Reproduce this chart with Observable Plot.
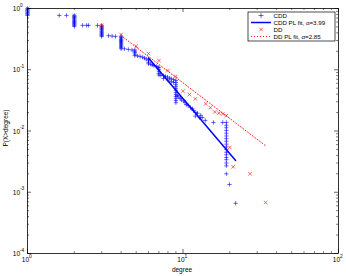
<!DOCTYPE html>
<html><head><meta charset="utf-8">
<script src="https://cdn.jsdelivr.net/npm/d3@7"></script>
<script src="https://cdn.jsdelivr.net/npm/@observablehq/plot@0.6"></script>
<style>
body{margin:0;background:#fff;}
#chart{width:346px;height:276px;}
</style>
</head><body><div id="chart"></div>
<script>
// ---- data ----
const xTicks = [1, 10, 100];
const xTickExp = ["0", "1", "2"];
const yTicks = [1, 0.1, 0.01, 0.001, 0.0001];
const yTickExp = ["0", "-1", "-2", "-3", "-4"];
const xMinor = [2,3,4,5,6,7,8,9,20,30,40,50,60,70,80,90];
const yMinor = [2,3,4,5,6,7,8,9].flatMap(k => [1e-4,1e-3,1e-2,1e-1].map(e => k*e));

// CDD: [degree, P(X>degree)]
const cdd = [
  [1,1],[1,.96],[1,.93],[1,.89],[1,.86],[1,.83],[1,.80],[1,.77],
  [1.6,.77],[1.78,.77],
  [2,.77],[2,.745],[2,.72],[2,.70],[2,.675],[2,.65],[2,.63],[2,.61],[2,.59],[2,.57],[2,.55],[2,.53],[2,.51],
  [2.26,.53],[2.4,.53],[2.47,.53],[2.82,.53],
  [3,.53],[3,.51],[3,.49],[3,.47],[3,.455],[3,.44],[3,.42],[3,.405],[3,.39],[3,.376],[3,.362],[3,.35],
  [3.32,.36],[3.5,.355],[3.68,.35],
  [4,.35],[4,.335],[4,.32],[4,.31],[4,.30],[4,.29],[4,.28],[4,.27],[4,.26],[4,.25],[4,.24],[4,.23],[4,.22],
  [4.2,.22],[4.45,.215],[4.7,.21],
  [4.9,.21],[4.9,.20],[4.9,.19],[4.9,.18],[4.9,.17],
  [5.1,.168],[5.3,.165],[5.5,.16],[5.65,.155],[5.8,.15],[6,.148],[6,.14],[6,.132],[6,.125],
  [6.2,.123],[6.35,.12],[6.5,.117],[6.75,.113],[6.9,.11],
  [7,.108],[7,.10],[7,.093],[7,.087],[7,.082],[7.2,.081],[7.5,.08],[7.7,.078],[7.95,.076],[8.2,.073],[8.4,.071],[8.7,.069],
  [7.5,.072],[8,.068],[8.4,.064],[8.7,.062],
  [9,.067],[9,.062],[9,.057],[9,.053],[9,.049],[9,.046],[9,.0425],[9,.0395],[9,.0366],[9,.034],[9,.0315],[9,.029],
  [9.2,.038],[9.4,.036],[9.6,.034],[9.8,.032],[10.1,.031],[10.3,.029],[10.5,.027],[10.8,.026],[11.2,.024],
  [11.5,.023],[11.7,.0216],[12.1,.02],[12.4,.0195],[13,.018],
  [13.3,.0166],[13.9,.0149],[12,.0175],[12.8,.0165],
  [15.7,.0138],[18,.0138],
  [19,.0138],[19,.0124],[19,.0113],[19,.0102],[19,.0092],[19,.0083],[19,.0075],[19,.0068],[19,.0061],
  [19,.0055],[19,.0050],[19,.0045],[19,.0041],[19,.0037],[19,.0034],[19,.0030],[19,.0027],[19,.0020],
  [19.9,.00134],[21.8,.00066]
];
// DD: [degree, P(X>degree)]
const dd = [
  [1,1],[2,.769],[3,.527],[4,.376],[5,.242],[6,.184],[7,.141],[8,.097],[9,.0776],
  [10,.0446],[11,.0394],[12,.0335],[14,.0278],[15,.024],[16,.0205],[17,.0196],[18,.019],[19,.0178],
  [20,.0054],[21,.0026],[27,.0020],[34,.00068]
];
// power-law fit lines (endpoints)
const cddFit = [[6,.155],[21.8,.0033]];   // alpha = 3.99
const ddFit = [[4,.36],[34.4,.0056]];      // alpha = 2.85
const legendItems = ["CDD", "CDD PL fit, \u03b1=3.99", "DD", "DD PL fit, \u03b1=2.85"];

// ---- chart ----
const W = 346, H = 276, mL = 27, mR = 8, mT = 8, mB = 23;
const pw = W - mL - mR, ph = H - mT - mB;
const font = "'Liberation Sans', Arial, Helvetica, sans-serif";
const blue = "#0000ff", red = "#ff0000";

const chart = Plot.plot({
  width: W, height: H,
  marginLeft: mL, marginRight: mR, marginTop: mT, marginBottom: mB,
  style: {fontFamily: font, background: "#fff", overflow: "visible"},
  x: {type: "log", domain: [1, 100], axis: null},
  y: {type: "log", domain: [1e-4, 1], axis: null},
  marks: [
    Plot.ruleX(xTicks, {x: d => d, insetTop: ph - 4, stroke: "#000", strokeWidth: 0.6}),
    Plot.ruleX(xTicks, {x: d => d, insetBottom: ph - 4, stroke: "#000", strokeWidth: 0.6}),
    Plot.ruleX(xMinor, {x: d => d, insetTop: ph - 2, stroke: "#000", strokeWidth: 0.5}),
    Plot.ruleX(xMinor, {x: d => d, insetBottom: ph - 2, stroke: "#000", strokeWidth: 0.5}),
    Plot.ruleY(yTicks, {y: d => d, insetRight: pw - 4, stroke: "#000", strokeWidth: 0.6}),
    Plot.ruleY(yTicks, {y: d => d, insetLeft: pw - 4, stroke: "#000", strokeWidth: 0.6}),
    Plot.ruleY(yMinor, {y: d => d, insetRight: pw - 2, stroke: "#000", strokeWidth: 0.5}),
    Plot.ruleY(yMinor, {y: d => d, insetLeft: pw - 2, stroke: "#000", strokeWidth: 0.5}),
    Plot.dot(cdd, {x: d => d[0], y: d => d[1], symbol: "plus", r: 1.5, stroke: blue, strokeWidth: 0.6}),
    Plot.line(cddFit, {x: d => d[0], y: d => d[1], stroke: blue, strokeWidth: 1.5}),
    Plot.dot(dd, {x: d => d[0], y: d => d[1], symbol: "times", r: 1.8, stroke: red, strokeWidth: 0.6}),
    Plot.line(ddFit, {x: d => d[0], y: d => d[1], stroke: red, strokeWidth: 0.9, strokeDasharray: "1,2"}),
    Plot.frame({stroke: "#000", strokeWidth: 0.8}),
    Plot.text(xTicks, {x: d => d, frameAnchor: "bottom", text: () => "10", dx: 1.5, dy: 8.5, textAnchor: "end", fontSize: 6.5, fill: "#000"}),
    Plot.text(xTicks, {x: d => d, frameAnchor: "bottom", text: (d, i) => xTickExp[i], dx: 1.5, dy: 4.5, textAnchor: "start", fontSize: 4.8, fill: "#000"}),
    Plot.text(yTicks, {y: d => d, frameAnchor: "left", text: () => "10", dx: -7.5, dy: 0.5, textAnchor: "end", fontSize: 6.5, fill: "#000"}),
    Plot.text(yTicks, {y: d => d, frameAnchor: "left", text: (d, i) => yTickExp[i], dx: -7.5, dy: -3.5, textAnchor: "start", fontSize: 4.8, fill: "#000"}),
  ]
});
document.getElementById("chart").appendChild(chart);

const svg = d3.select(chart);
svg.append("text").attr("x", mL + pw / 2 - 0.5).attr("y", 272).attr("text-anchor", "middle")
  .attr("font-size", 6.5).attr("font-family", font).attr("fill", "#000").text("degree");
svg.append("text").attr("transform", `translate(8,128) rotate(-90)`).attr("text-anchor", "middle")
  .attr("font-size", 6.5).attr("font-family", font).attr("fill", "#000").text("P(X>degree)");

const lg = svg.append("g");
const lx = 248, ly = 12, lw = 87, lh = 29;
lg.append("rect").attr("x", lx).attr("y", ly).attr("width", lw).attr("height", lh)
  .attr("fill", "#fff").attr("stroke", "#000").attr("stroke-width", 0.7);
const rows = [15.5, 22.5, 29.5, 36.5];
rows.forEach((ry, i) => {
  const cx = 261;
  if (i === 0) {
    lg.append("path").attr("d", `M${cx-2.5},${ry}H${cx+2.5}M${cx},${ry-2.5}V${ry+2.5}`).attr("stroke", blue).attr("stroke-width", 0.6).attr("fill", "none");
  } else if (i === 1) {
    lg.append("line").attr("x1", 251).attr("x2", 271).attr("y1", ry).attr("y2", ry).attr("stroke", blue).attr("stroke-width", 1.5);
  } else if (i === 2) {
    lg.append("path").attr("d", `M${cx-1.8},${ry-1.8}L${cx+1.8},${ry+1.8}M${cx-1.8},${ry+1.8}L${cx+1.8},${ry-1.8}`).attr("stroke", red).attr("stroke-width", 0.6).attr("fill", "none");
  } else {
    lg.append("line").attr("x1", 251).attr("x2", 271).attr("y1", ry).attr("y2", ry).attr("stroke", red).attr("stroke-width", 0.9).attr("stroke-dasharray", "1,2");
  }
  lg.append("text").attr("x", 273.5).attr("y", ry + 2.2).attr("text-anchor", "start").attr("font-size", 6.2).attr("font-family", font)
    .attr("fill", "#000").text(legendItems[i]);
});
</script>
</body></html>
